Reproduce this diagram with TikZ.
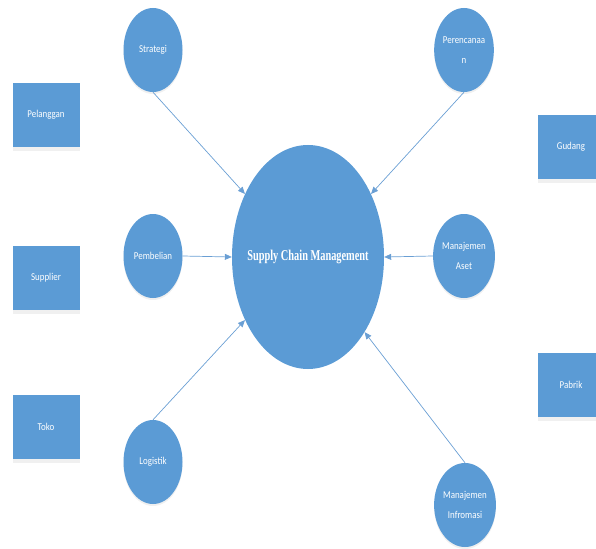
\documentclass[tikz,border=0pt]{standalone}
\usepackage{fontspec}
\usepackage{xcolor}
\usepackage{tikz}
\usetikzlibrary{shapes.geometric,arrows.meta,shadows}
\newfontfamily\labelfont[FakeStretch=0.85]{Carlito}
\newfontfamily\hubfont[FakeStretch=0.69]{Liberation Serif}
\definecolor{scmblue}{HTML}{5B9BD5}
\definecolor{linkblue}{HTML}{6A9FD4}

\begin{document}
\begin{tikzpicture}[x=1pt,y=-1pt,
    hub/.style={ellipse,fill=scmblue,minimum width=152pt,minimum height=224pt,inner sep=0pt,
        text=white,font=\hubfont\bfseries\fontsize{15}{18}\selectfont},
    bubble/.style={ellipse,fill=scmblue,minimum width=59pt,minimum height=84pt,inner sep=0pt,
        text=white,align=center,font=\labelfont\fontsize{10.5}{20}\selectfont,
        drop shadow={shadow xshift=0pt,shadow yshift=-2pt,opacity=0.12}},
    box/.style={rectangle,fill=scmblue,minimum width=67pt,minimum height=64pt,inner sep=0pt,
        text=white,font=\labelfont\fontsize{10.5}{20}\selectfont,
        drop shadow={shadow xshift=0pt,shadow yshift=-4pt,opacity=0.12}},
    link/.style={draw=linkblue,line width=0.7pt,-{Triangle[length=7pt,width=6pt]}}]
    \useasboundingbox (0,0) rectangle (596,548);
    % centre
    \node[hub] (0) at (308,257) {\makebox[0pt]{Supply Chain Management}};
    % left column
    \node[bubble] (1) at (153,50) {Strategi};
    \node[bubble] (2) at (153,256) {Pembelian};
    \node[bubble] (3) at (153,462) {Logistik};
    % right column
    \node[bubble] (4) at (464,50) {Perencanaa\\n};
    \node[bubble] (5) at (464,256) {Manajemen\\Aset};
    \node[bubble] (6) at (465,505) {Manajemen\\Infromasi};
    % boxes
    \node[box] (7) at (46,115) {Pelanggan};
    \node[box] (8) at (46,278) {Supplier};
    \node[box] (9) at (46,427) {Toko};
    \node[box] (10) at (571,147) {Gudang};
    \node[box] (11) at (571,385) {Pabrik};
    % links
    \draw[link] (1.south) to (0.135);
    \draw[link] (2.east) to (0.west);
    \draw[link] (3.north) to (0.225);
    \draw[link] (4.south) to (0.45);
    \draw[link] (5.west) to (0.east);
    \draw[link] (6.north) to (0.307);
\end{tikzpicture}
\end{document}
